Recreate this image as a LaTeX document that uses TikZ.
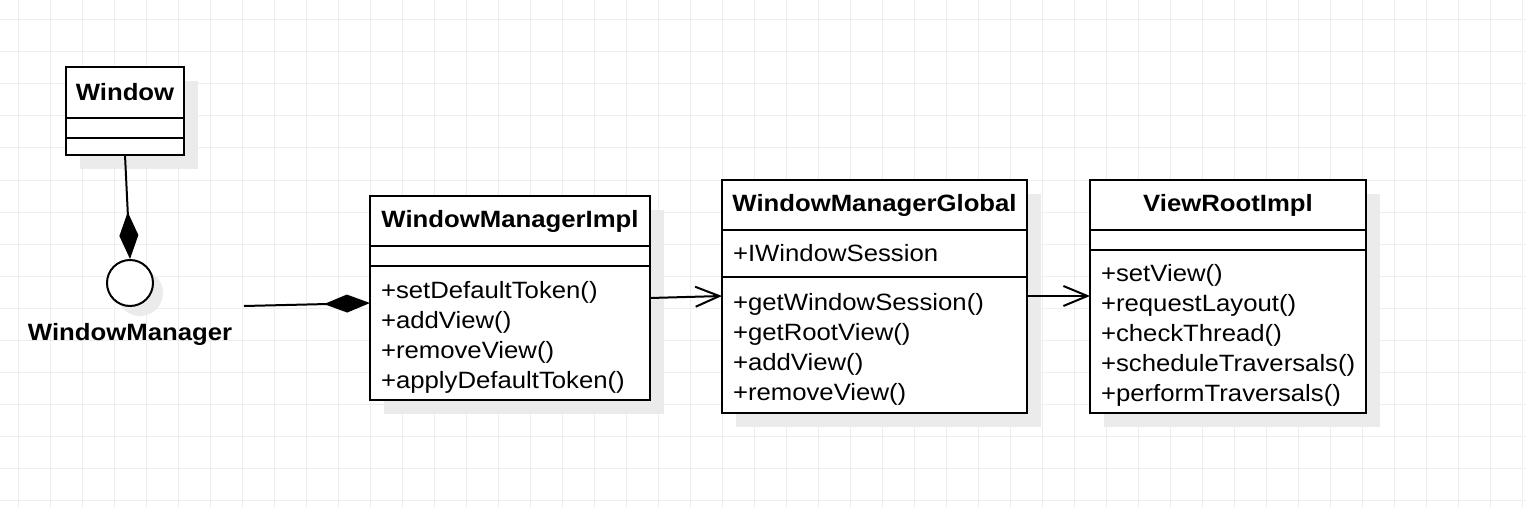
\documentclass[tikz,border=0pt]{standalone}
\usepackage{fontspec}
\setmainfont{Liberation Sans}[FakeStretch=1.09]
\usetikzlibrary{arrows.meta,positioning,backgrounds}

\definecolor{gridc}{HTML}{EEEEEE}
\definecolor{shadowc}{HTML}{EBEBEB}
\newcommand{\umlfont}{\fontsize{23.6}{30}\selectfont}

\tikzset{
  umlbox/.style={draw, line width=2pt, fill=white, inner sep=0pt, outer sep=0pt, minimum width=#1},
  umltitle/.style={umlbox=#1, font=\umlfont\bfseries, minimum height=50},
  umlpart/.style 2 args={umlbox=#1, text width=#2, align=left, font=\umlfont},
  umlops/.style 2 args={umlpart={#1}{#2}, execute at begin node={\rule{0pt}{25pt}}},
  link/.style={line width=2pt},
  open/.style={link, -{Straight Barb[length=24pt,width=20pt]}},
}

\begin{document}
\begin{tikzpicture}[x=1pt, y=-1pt, node distance=0pt]
  \useasboundingbox (0,0) rectangle (1526,508);
  \begin{scope}[on background layer]
    \fill[white] (0,0) rectangle (1526,508);
    \foreach \gx in {18,50,...,1522} \draw[gridc, line width=1pt] (\gx,0) -- (\gx,508);
    \foreach \gy in {20,52,...,500} \draw[gridc, line width=1pt] (0,\gy) -- (1526,\gy);
  \end{scope}

  % Window
  \node[umltitle=118, minimum height=51, anchor=north west] (winT) at (66,67) {Window};
  \node[umlbox=118, minimum height=20, below=of winT] (winA) {};
  \node[umlbox=118, minimum height=17, below=of winA] (winM) {};

  % WindowManager interface
  \node[draw, circle, line width=2pt, fill=white, minimum size=46, inner sep=0pt] (wm) at (130,283) {};
  \node[font=\umlfont\bfseries] (wmLabel) at (130,334) {WindowManager};
  \coordinate (wmTail) at (244,306);

  % WindowManagerImpl
  \node[umltitle=280, anchor=north west] (implT) at (370,196) {WindowManagerImpl};
  \node[umlbox=280, minimum height=20, below=of implT] (implA) {};
  \node[umlops={280}{258}, minimum height=134, below=of implA] (implM)
    {+setDefaultToken()\\+addView()\\+removeView()\\+applyDefaultToken()};

  % WindowManagerGlobal
  \node[umltitle=305, anchor=north west] (globT) at (722,180) {WindowManagerGlobal};
  \node[umlpart={305}{283}, minimum height=47, below=of globT] (globA) {+IWindowSession};
  \node[umlops={305}{283}, minimum height=136, below=of globA] (globM)
    {+getWindowSession()\\+getRootView()\\+addView()\\+removeView()};

  % ViewRootImpl
  \node[umltitle=276, anchor=north west] (vriT) at (1090,180) {ViewRootImpl};
  \node[umlbox=276, minimum height=20, below=of vriT] (vriA) {};
  \node[umlops={276}{254}, minimum height=163, below=of vriA] (vriM)
    {+setView()\\+requestLayout()\\+checkThread()\\+scheduleTraversals()\\+performTraversals()};

  \begin{scope}[on background layer]
    \fill[shadowc] ([shift={(14,14)}]winT.north west) rectangle ([shift={(14,14)}]winM.south east);
    \fill[shadowc] ([shift={(10,10)}]wm.center) circle[radius=23pt];
    \fill[shadowc] ([shift={(14,14)}]implT.north west) rectangle ([shift={(14,14)}]implM.south east);
    \fill[shadowc] ([shift={(14,14)}]globT.north west) rectangle ([shift={(14,14)}]globM.south east);
    \fill[shadowc] ([shift={(14,14)}]vriT.north west) rectangle ([shift={(14,14)}]vriM.south east);
  \end{scope}

  \draw[link, -{Diamond[length=47pt,width=19pt]}] (winM.south) -- (wm.north);
  \draw[link, -{Diamond[length=46pt,width=18pt]}] (wmTail) -- ([yshift=30pt]implM.west);
  \draw[open] ([yshift=35pt]implM.east) -- ([yshift=49pt]globM.west);
  \draw[open] ([yshift=49pt]globM.east) -- ([yshift=35.5pt]vriM.west);
\end{tikzpicture}
\end{document}
